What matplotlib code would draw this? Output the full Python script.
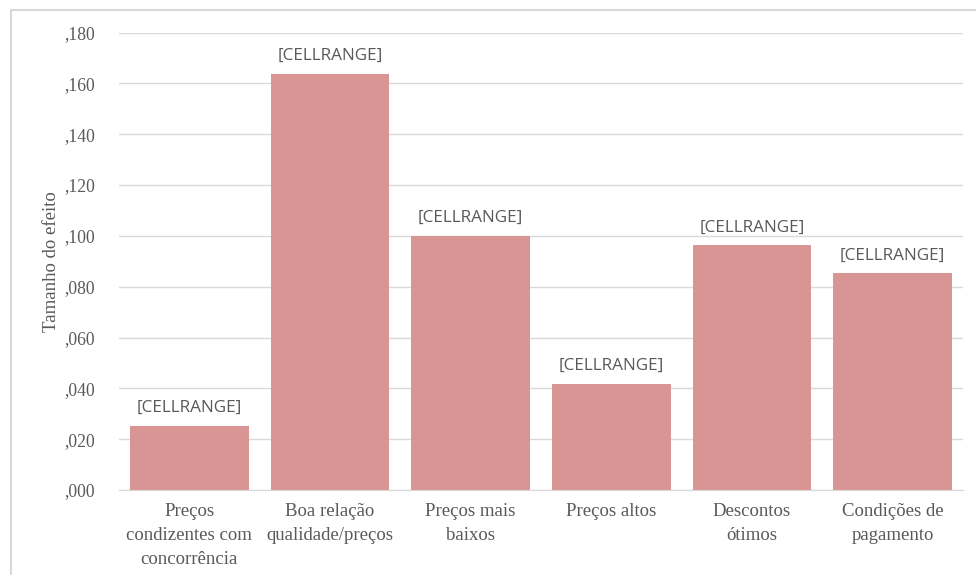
import matplotlib
matplotlib.use("Agg")
import matplotlib.pyplot as plt
from matplotlib.patches import Rectangle

# dados
categorias = ["Preços\ncondizentes com\nconcorrência", "Boa relação\nqualidade/preços",
              "Preços mais\nbaixos", "Preços altos", "Descontos\nótimos", "Condições de\npagamento"]
valores = [0.0252, 0.1638, 0.1000, 0.0418, 0.0962, 0.0852]
rotulos = ["[CELLRANGE]"] * 6
yticks = [0.0, 0.02, 0.04, 0.06, 0.08, 0.10, 0.12, 0.14, 0.16, 0.18]
ytick_labels = [",000", ",020", ",040", ",060", ",080", ",100", ",120", ",140", ",160", ",180"]

W, H = 976, 575
fig = plt.figure(figsize=(W / 100, H / 100), dpi=100)

# moldura externa do gráfico
fig.patches.append(Rectangle((11 / W, -0.05), 1.1, (H - 10) / H + 0.05, transform=fig.transFigure,
                             fill=False, edgecolor="#D9D9D9", linewidth=1.5))

# área de plotagem em pixels
x0, x1, y_top, y_bot = 119, 963, 32.5, 490
ax = fig.add_axes([x0 / W, (H - y_bot) / H, (x1 - x0) / W, (y_bot - y_top) / H])

cor_texto = "#595959"
xs = range(len(categorias))
bars = ax.bar(xs, valores, width=0.845, color="#D99594", zorder=2)
ax.set_xlim(-0.5, len(categorias) - 0.5)
ax.set_ylim(0, 0.18)

for b, txt in zip(bars, rotulos):
    ax.annotate(txt, (b.get_x() + b.get_width() / 2, b.get_height()), xytext=(0, 7),
                textcoords="offset points", ha="center", va="bottom",
                fontsize=12.3, color=cor_texto, family="Open Sans")

ax.set_yticks(yticks)
ax.set_yticklabels(ytick_labels, family="Liberation Serif", fontsize=12.7, color=cor_texto)
ax.set_xticks(list(xs))
ax.set_xticklabels(categorias, family="Liberation Serif", fontsize=13.5, color=cor_texto,
                   linespacing=1.55)
ax.tick_params(axis="both", length=0)
ax.tick_params(axis="x", pad=9)
ax.tick_params(axis="y", pad=17)
ax.grid(axis="y", color="#D9D9D9", linewidth=1, zorder=0)
for s in ["top", "right", "left"]:
    ax.spines[s].set_visible(False)
ax.spines["bottom"].set_color("#D9D9D9")
ax.set_ylabel("Tamanho do efeito", family="Liberation Serif", fontsize=13.5, color=cor_texto,
              labelpad=18)
ax.yaxis.set_label_coords(-59 / (x1 - x0), 0.5)

fig.savefig("out.png", dpi=100)
